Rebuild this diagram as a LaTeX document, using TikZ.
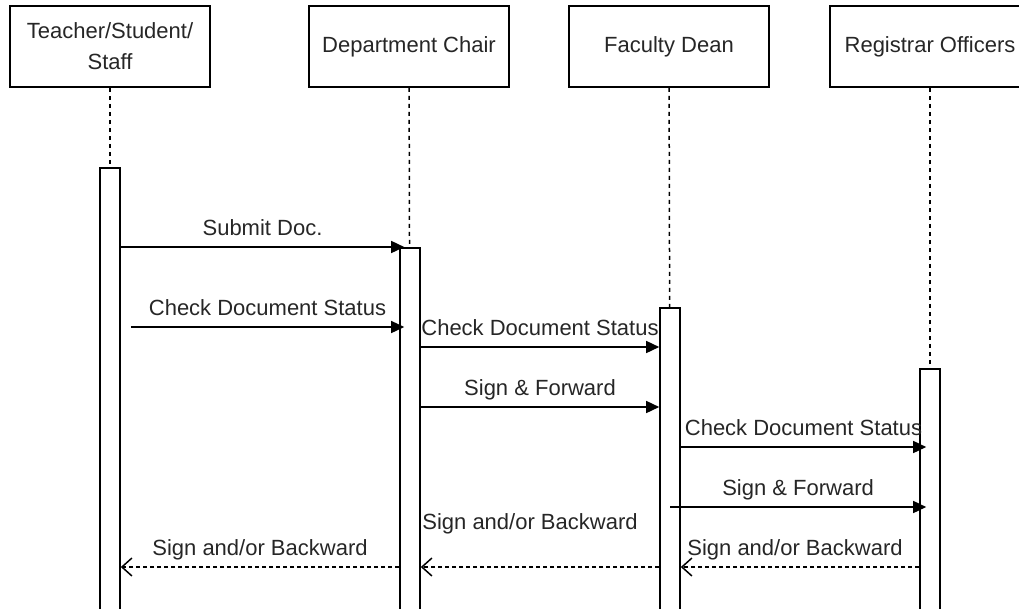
\documentclass[tikz,border=0pt]{standalone}
\usepackage{fontspec}
\setmainfont{Liberation Sans}
\usetikzlibrary{arrows.meta}

\tikzset{
  actor/.style={draw, line width=1.6pt, minimum width=200pt, minimum height=81pt,
    align=center, text=black!85, font=\fontsize{22}{31}\selectfont},
  bar/.style={draw, line width=1.6pt, fill=white, minimum width=20pt, anchor=north},
  life/.style={line width=1.5pt, dash pattern=on 4pt off 4pt},
  msg/.style={line width=1.5pt, -{Triangle[length=13pt,width=12pt]}},
  ret/.style={line width=1.5pt, dash pattern=on 4pt off 3pt,
    -{Straight Barb[length=10pt,width=18pt,line width=1.5pt]}},
  lbl/.style={above=7pt, inner sep=0pt, text height=15pt, text depth=4pt,
    text=black!85, font=\fontsize{22}{25}\selectfont}
}

\begin{document}
\begin{tikzpicture}[x=1pt, y=-1pt]
  \useasboundingbox (0,0) rectangle (1019,608);

  \node[actor] (tss)   at (110,46.5) {Teacher/Student/\\Staff};
  \node[actor] (chair) at (409,46.5) {Department Chair};
  \node[actor] (dean)  at (669,46.5) {Faculty Dean};
  \node[actor] (reg)   at (930,46.5) {Registrar Officers};

  \node[bar, minimum height=450pt] (act1) at (110,167) {};
  \node[bar, minimum height=370pt] (act2) at (410,247) {};
  \node[bar, minimum height=310pt] (act3) at (670,307) {};
  \node[bar, minimum height=250pt] (act4) at (930,368) {};

  \draw[life] (tss)   -- (act1);
  \draw[life] (chair) -- (act2);
  \draw[life] (dean)  -- (act3);
  \draw[life] (reg)   -- (act4);

  \coordinate (m1) at (0,247);
  \coordinate (m2) at (0,327);
  \coordinate (m3) at (0,347);
  \coordinate (m4) at (0,407);
  \coordinate (m5) at (0,447);
  \coordinate (m6) at (0,507);
  \coordinate (m7) at (0,567);

  \draw[msg] (act1.east |- m1) -- ([xshift=5pt]act2.west |- m1)
    node[lbl, midway] {Submit Doc.};
  \draw[msg] ([xshift=10pt]act1.east |- m2) -- ([xshift=5pt]act2.west |- m2)
    node[lbl, midway] {Check Document Status};
  \draw[msg] (act2.east |- m3) -- (act3.west |- m3)
    node[lbl, midway] {Check Document Status};
  \draw[msg] (act2.east |- m4) -- (act3.west |- m4)
    node[lbl, midway] {Sign \& Forward};
  \draw[msg] (act3.east |- m5) -- ([xshift=7pt]act4.west |- m5)
    node[lbl, midway] {Check Document Status};
  \draw[msg] (act3 |- m6) -- ([xshift=7pt]act4.west |- m6)
    node[lbl, midway] {Sign \& Forward};

  \draw[ret] (act4.west |- m7) -- (act3.east |- m7)
    node[lbl, midway, xshift=-5pt] {Sign and/or Backward};
  \draw[ret] (act3.west |- m7) -- (act2.east |- m7)
    node[lbl, midway, above=26pt, xshift=-10pt] {Sign and/or Backward};
  \draw[ret] (act2.west |- m7) -- (act1.east |- m7)
    node[lbl, midway] {Sign and/or Backward};
\end{tikzpicture}
\end{document}
